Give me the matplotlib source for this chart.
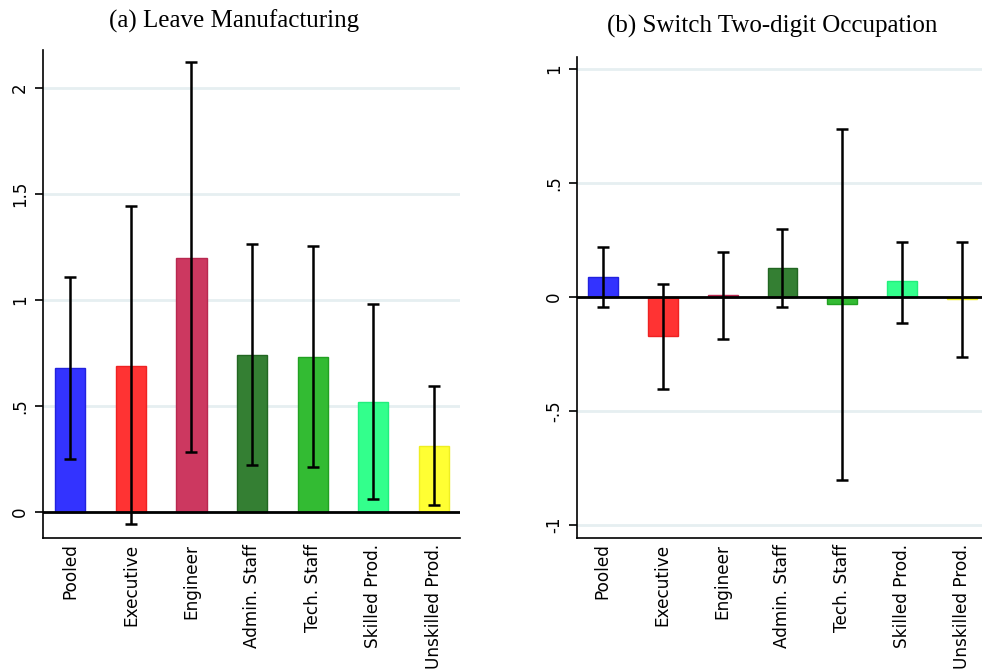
import matplotlib
matplotlib.use("Agg")
import matplotlib.pyplot as plt
import numpy as np

# Occupation groups and bar colours
categories = ["Pooled", "Executive", "Engineer", "Admin. Staff",
              "Tech. Staff", "Skilled Prod.", "Unskilled Prod."]
bar_colors = ["#3333ff", "#ff3333", "#cc3860", "#347f33",
              "#33bb33", "#33ff8c", "#ffff33"]
edge_colors = ["#2222dd", "#ee2222", "#b82850", "#226622",
               "#22a022", "#22ee7c", "#eeee22"]

# (a) Leave manufacturing: point estimates and 95% CI bounds
leave_est = [0.678, 0.688, 1.200, 0.740, 0.729, 0.519, 0.309]
leave_lo = [0.250, -0.058, 0.280, 0.219, 0.210, 0.060, 0.030]
leave_hi = [1.110, 1.445, 2.125, 1.265, 1.253, 0.982, 0.592]
leave_ticks = [0, 0.5, 1, 1.5, 2]
leave_ticklabels = ["0", ".5", "1", "1.5", "2"]

# (b) Switch two-digit occupation: point estimates and 95% CI bounds
switch_est = [0.089, -0.171, 0.009, 0.126, -0.031, 0.070, -0.010]
switch_lo = [-0.042, -0.404, -0.183, -0.042, -0.803, -0.113, -0.262]
switch_hi = [0.218, 0.057, 0.199, 0.301, 0.737, 0.241, 0.241]
switch_ticks = [-1, -0.5, 0, 0.5, 1]
switch_ticklabels = ["-1", "-.5", "0", ".5", "1"]

W, H = 982, 671
fig = plt.figure(figsize=(W / 100, H / 100), dpi=100)


def px_axes(x0, y0, x1, y1):
    return fig.add_axes([x0 / W, 1 - y1 / H, (x1 - x0) / W, (y1 - y0) / H])


def draw_panel(ax, est, lo, hi, ticks, ticklabels, ylim, xlim):
    x = np.arange(1, len(categories) + 1)
    est = np.asarray(est)
    ax.bar(x, est, width=0.5, color=bar_colors, edgecolor=edge_colors,
           linewidth=1.0, zorder=2)
    ax.axhline(0, color="black", lw=2.0, zorder=3)
    yerr = np.vstack([est - np.asarray(lo), np.asarray(hi) - est])
    ax.errorbar(x, est, yerr=yerr, fmt="none", ecolor="black",
                elinewidth=1.8, capsize=4, capthick=1.8, zorder=4)
    ax.set_xlim(*xlim)
    ax.set_ylim(*ylim)
    ax.set_yticks(ticks)
    ax.set_yticklabels(ticklabels, rotation=90, va="center",
                       fontsize=12, family="DejaVu Sans")
    ax.set_xticks(x)
    ax.set_xticklabels(categories, rotation=90, fontsize=12.2,
                       family="DejaVu Sans")
    ax.tick_params(axis="x", length=0, pad=4)
    ax.tick_params(axis="y", length=6, width=1.2, pad=4)
    ax.yaxis.grid(True, color="#e6eff1", lw=2.0, zorder=0)
    ax.set_axisbelow(True)
    for side in ("top", "right"):
        ax.spines[side].set_visible(False)
    for side in ("left", "bottom"):
        ax.spines[side].set_linewidth(1.2)


ax1 = px_axes(43, 50, 460, 538)
draw_panel(ax1, leave_est, leave_lo, leave_hi, leave_ticks, leave_ticklabels,
           ylim=(-0.124, 2.18), xlim=(0.55, 7.43))

ax2 = px_axes(577, 57, 982, 538)
draw_panel(ax2, switch_est, switch_lo, switch_hi, switch_ticks,
           switch_ticklabels, ylim=(-1.056, 1.053), xlim=(0.57, 7.33))

fig.text(234 / W, 1 - 28 / H, "(a) Leave Manufacturing", ha="center",
         va="baseline", fontsize=18, family="Liberation Serif")
fig.text(772 / W, 1 - 33 / H, "(b) Switch Two-digit Occupation",
         ha="center", va="baseline", fontsize=18, family="Liberation Serif")

fig.savefig("out.png", dpi=100, facecolor="white")
